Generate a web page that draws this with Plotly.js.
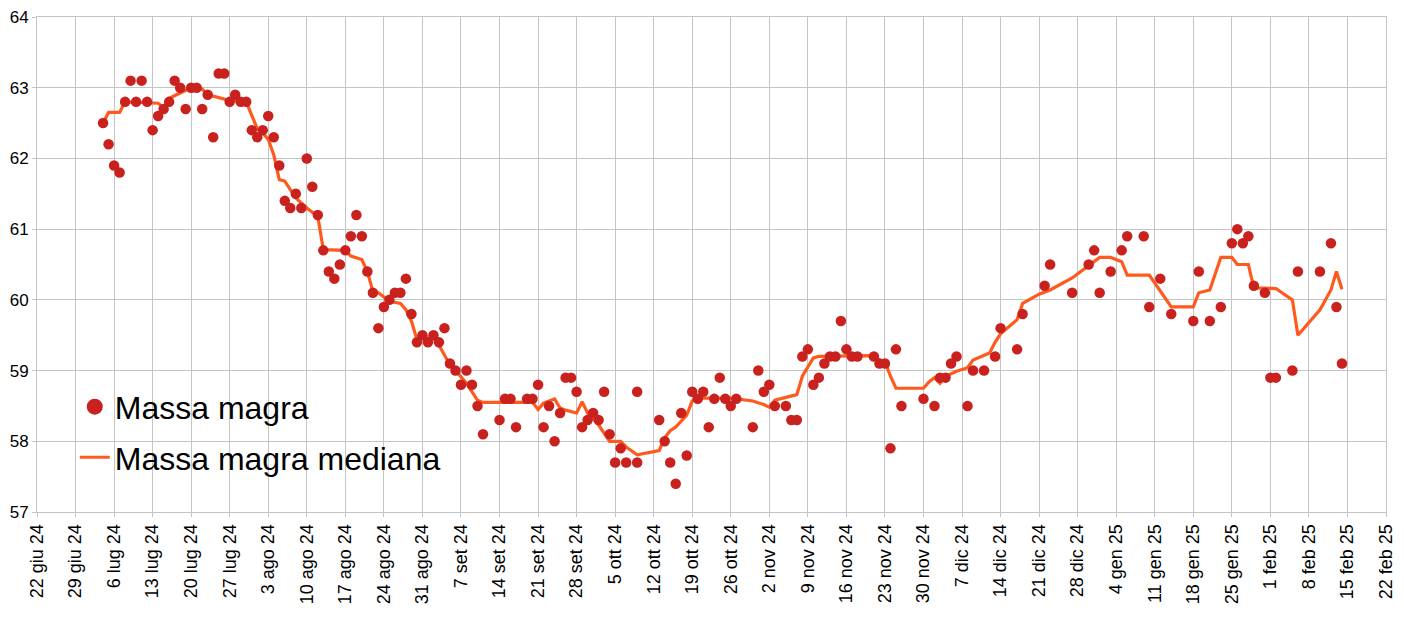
<!DOCTYPE html>
<html>
<head>
<meta charset="utf-8">
<script src="https://cdn.plot.ly/plotly-3.0.1.min.js"></script>
<style>
  html, body { margin: 0; padding: 0; background: #fff; }
  #chart { width: 1404px; height: 620px; }
</style>
</head>
<body>
<div id="chart"></div>
<script>
// misurazioni giornaliere (kg)
const dates = [
  '2024-07-04','2024-07-05','2024-07-06','2024-07-07','2024-07-08','2024-07-09','2024-07-10','2024-07-11',
  '2024-07-12','2024-07-13','2024-07-14','2024-07-15','2024-07-16','2024-07-17','2024-07-18','2024-07-19',
  '2024-07-20','2024-07-21','2024-07-22','2024-07-23','2024-07-24','2024-07-25','2024-07-26','2024-07-27',
  '2024-07-28','2024-07-29','2024-07-30','2024-07-31',
  '2024-08-01','2024-08-02','2024-08-03','2024-08-04','2024-08-05','2024-08-06','2024-08-07','2024-08-08',
  '2024-08-09','2024-08-10','2024-08-11','2024-08-12','2024-08-13','2024-08-14','2024-08-15','2024-08-16',
  '2024-08-17','2024-08-18','2024-08-19','2024-08-20','2024-08-21','2024-08-22','2024-08-23','2024-08-24',
  '2024-08-25','2024-08-26','2024-08-27','2024-08-28','2024-08-29','2024-08-30','2024-08-31',
  '2024-09-01','2024-09-02','2024-09-03','2024-09-04','2024-09-05','2024-09-06','2024-09-07','2024-09-08',
  '2024-09-09','2024-09-10','2024-09-11','2024-09-14','2024-09-15','2024-09-16','2024-09-17','2024-09-19',
  '2024-09-20','2024-09-21','2024-09-22','2024-09-23','2024-09-24','2024-09-25','2024-09-26','2024-09-27',
  '2024-09-28','2024-09-29','2024-09-30',
  '2024-10-01','2024-10-02','2024-10-03','2024-10-04','2024-10-05','2024-10-06','2024-10-07','2024-10-09',
  '2024-10-09','2024-10-13','2024-10-14','2024-10-15','2024-10-16','2024-10-17','2024-10-18','2024-10-19',
  '2024-10-20','2024-10-21','2024-10-22','2024-10-23','2024-10-24','2024-10-25','2024-10-26','2024-10-27',
  '2024-10-30','2024-10-31',
  '2024-11-01','2024-11-02','2024-11-03','2024-11-05','2024-11-06','2024-11-07','2024-11-08','2024-11-09',
  '2024-11-10','2024-11-11','2024-11-12','2024-11-13','2024-11-14','2024-11-15','2024-11-16','2024-11-17',
  '2024-11-18','2024-11-21','2024-11-22','2024-11-23','2024-11-24','2024-11-25','2024-11-26','2024-11-30',
  '2024-12-02','2024-12-03','2024-12-04','2024-12-05','2024-12-06','2024-12-08','2024-12-09','2024-12-11',
  '2024-12-13','2024-12-14','2024-12-17','2024-12-18','2024-12-22','2024-12-23','2024-12-27','2024-12-30',
  '2024-12-31',
  '2025-01-01','2025-01-03','2025-01-05','2025-01-06','2025-01-09','2025-01-10','2025-01-12','2025-01-14',
  '2025-01-18','2025-01-19','2025-01-21','2025-01-23','2025-01-25','2025-01-26','2025-01-27','2025-01-28',
  '2025-01-29','2025-01-31',
  '2025-02-01','2025-02-02','2025-02-05','2025-02-06','2025-02-10','2025-02-12','2025-02-13','2025-02-14'
];
const massa = [
  62.5,62.2,61.9,61.8,62.8,63.1,62.8,63.1,
  62.8,62.4,62.6,62.7,62.8,63.1,63.0,62.7,
  63.0,63.0,62.7,62.9,62.3,63.2,63.2,62.8,
  62.9,62.8,62.8,62.4,
  62.3,62.4,62.6,62.3,61.9,61.4,61.3,61.5,
  61.3,62.0,61.6,61.2,60.7,60.4,60.3,60.5,
  60.7,60.9,61.2,60.9,60.4,60.1,59.6,59.9,
  60.0,60.1,60.1,60.3,59.8,59.4,59.5,
  59.4,59.5,59.4,59.6,59.1,59.0,58.8,59.0,
  58.8,58.5,58.1,58.3,58.6,58.6,58.2,58.6,
  58.6,58.8,58.2,58.5,58.0,58.4,58.9,58.9,
  58.7,58.2,58.3,
  58.4,58.3,58.7,58.1,57.7,57.9,57.7,57.7,
  58.7,58.3,58.0,57.7,57.4,58.4,57.8,58.7,
  58.6,58.7,58.2,58.6,58.9,58.6,58.5,58.6,
  58.2,59.0,
  58.7,58.8,58.5,58.5,58.3,58.3,59.2,59.3,
  58.8,58.9,59.1,59.2,59.2,59.7,59.3,59.2,
  59.2,59.2,59.1,59.1,57.9,59.3,58.5,58.6,
  58.5,58.9,58.9,59.1,59.2,58.5,59.0,59.0,
  59.2,59.6,59.3,59.8,60.2,60.5,60.1,60.5,
  60.7,
  60.1,60.4,60.7,60.9,60.9,59.9,60.3,59.8,
  59.7,60.4,59.7,59.9,60.8,61.0,60.8,60.9,
  60.2,60.1,
  58.9,58.9,59.0,60.4,60.4,60.8,59.9,59.1
];

const medianaDates = [
  '2024-07-04','2024-07-05','2024-07-07','2024-07-08','2024-07-14','2024-07-15','2024-07-16','2024-07-18',
  '2024-07-20','2024-07-22','2024-07-23','2024-07-25','2024-07-27','2024-07-30','2024-07-31',
  '2024-08-01','2024-08-02','2024-08-03','2024-08-04','2024-08-05','2024-08-06','2024-08-08','2024-08-10',
  '2024-08-12','2024-08-13','2024-08-17','2024-08-18','2024-08-20','2024-08-21','2024-08-22','2024-08-23',
  '2024-08-25','2024-08-27','2024-08-28','2024-08-29','2024-08-30','2024-08-31',
  '2024-09-02','2024-09-03','2024-09-05','2024-09-06','2024-09-08','2024-09-10','2024-09-11','2024-09-20',
  '2024-09-21','2024-09-22','2024-09-24','2024-09-25','2024-09-26','2024-09-28','2024-09-29','2024-09-30',
  '2024-10-01','2024-10-02','2024-10-04','2024-10-06','2024-10-07','2024-10-09','2024-10-13','2024-10-14',
  '2024-10-15','2024-10-16','2024-10-17','2024-10-18','2024-10-19','2024-10-20','2024-10-26','2024-10-30',
  '2024-11-01','2024-11-02','2024-11-03','2024-11-05','2024-11-07','2024-11-08','2024-11-09','2024-11-10',
  '2024-11-11','2024-11-20','2024-11-22','2024-11-23','2024-11-24','2024-11-25','2024-11-30',
  '2024-12-01','2024-12-02','2024-12-03','2024-12-04','2024-12-06','2024-12-08','2024-12-09','2024-12-12',
  '2024-12-13','2024-12-14','2024-12-17','2024-12-18','2024-12-21','2024-12-23','2024-12-27',
  '2025-01-01','2025-01-03','2025-01-05','2025-01-06','2025-01-10','2025-01-12','2025-01-14','2025-01-18',
  '2025-01-19','2025-01-21','2025-01-23','2025-01-25','2025-01-26','2025-01-28','2025-01-29',
  '2025-02-02','2025-02-05','2025-02-06','2025-02-10','2025-02-12','2025-02-13','2025-02-14'
];
const mediana = [
  62.5,62.65,62.65,62.8,62.78,62.72,62.85,62.92,
  63.0,62.98,62.9,62.86,62.82,62.8,62.6,
  62.42,62.36,62.27,62.05,61.7,61.68,61.44,61.3,
  61.18,60.71,60.7,60.62,60.57,60.4,60.12,60.1,
  59.98,59.95,59.86,59.7,59.44,59.46,
  59.46,59.36,59.08,59.0,58.82,58.58,58.55,58.55,
  58.45,58.54,58.6,58.47,58.44,58.4,58.56,58.4,
  58.33,58.23,58.0,58.0,57.92,57.81,57.87,58.05,
  58.15,58.2,58.28,58.37,58.57,58.61,58.61,58.57,
  58.52,58.48,58.58,58.62,58.66,58.92,59.05,59.18,
  59.2,59.21,59.15,59.13,58.92,58.75,58.75,
  58.84,58.9,58.82,58.92,58.99,59.04,59.15,59.25,
  59.4,59.52,59.72,59.95,60.08,60.14,60.31,
  60.6,60.6,60.54,60.35,60.35,60.12,59.9,59.9,
  60.1,60.14,60.6,60.6,60.5,60.5,60.17,
  60.16,60.0,59.5,59.86,60.14,60.4,60.15
];

// etichette asse x (settimanali)
const tickDates = [
  '2024-06-22','2024-06-29','2024-07-06','2024-07-13','2024-07-20','2024-07-27','2024-08-03','2024-08-10',
  '2024-08-17','2024-08-24','2024-08-31','2024-09-07','2024-09-14','2024-09-21','2024-09-28','2024-10-05',
  '2024-10-12','2024-10-19','2024-10-26','2024-11-02','2024-11-09','2024-11-16','2024-11-23','2024-11-30',
  '2024-12-07','2024-12-14','2024-12-21','2024-12-28','2025-01-04','2025-01-11','2025-01-18','2025-01-25',
  '2025-02-01','2025-02-08','2025-02-15','2025-02-22'
];
const tickLabels = [
  '22 giu 24','29 giu 24','6 lug 24','13 lug 24','20 lug 24','27 lug 24','3 ago 24','10 ago 24',
  '17 ago 24','24 ago 24','31 ago 24','7 set 24','14 set 24','21 set 24','28 set 24','5 ott 24',
  '12 ott 24','19 ott 24','26 ott 24','2 nov 24','9 nov 24','16 nov 24','23 nov 24','30 nov 24',
  '7 dic 24','14 dic 24','21 dic 24','28 dic 24','4 gen 25','11 gen 25','18 gen 25','25 gen 25',
  '1 feb 25','8 feb 25','15 feb 25','22 feb 25'
];

const RED = '#c9211e';
const ORANGE = '#ff5a1e';
const GRID = '#c4c4c4';
const FONT = 'Liberation Sans, Arial, sans-serif';

var traces = [
  {
    x: medianaDates, y: mediana,
    type: 'scatter', mode: 'lines',
    name: 'Massa magra mediana',
    line: {color: ORANGE, width: 3.2},
    legendgroup: 'b', legendrank: 2
  },
  {
    x: dates, y: massa,
    type: 'scatter', mode: 'markers',
    name: 'Massa magra',
    marker: {color: RED, size: 10.5},
    showlegend: false
  },
  // solo per la legenda (simbolo piu grande)
  {
    x: [null], y: [null],
    type: 'scatter', mode: 'markers',
    name: 'Massa magra',
    marker: {color: RED, size: 22},
    legendgroup: 'a', legendrank: 1
  }
];

var layout = {
  width: 1404, height: 620,
  margin: {l: 37, r: 18, t: 17, b: 108},
  paper_bgcolor: '#fff', plot_bgcolor: '#fff',
  font: {family: FONT, color: '#000'},
  showlegend: true,
  legend: {
    x: 0.028, y: 0.268, xanchor: 'left', yanchor: 'top',
    bgcolor: 'rgba(0,0,0,0)',
    font: {family: FONT, size: 32, color: '#000'},
    itemsizing: 'trace',
    tracegroupgap: 6
  },
  xaxis: {
    type: 'date',
    range: ['2024-06-22', '2025-02-22'],
    tickmode: 'array', tickvals: tickDates, ticktext: tickLabels,
    tickangle: -90,
    tickfont: {family: FONT, size: 18, color: '#000'},
    showgrid: true, gridcolor: GRID, gridwidth: 1,
    showline: true, linecolor: GRID, mirror: true,
    ticks: 'outside', ticklen: 4, tickcolor: GRID,
    zeroline: false
  },
  yaxis: {
    range: [57, 64],
    tickmode: 'linear', tick0: 57, dtick: 1,
    tickfont: {family: FONT, size: 17, color: '#000'},
    showgrid: true, gridcolor: GRID, gridwidth: 1,
    showline: true, linecolor: GRID, mirror: true,
    ticks: 'outside', ticklen: 4, tickcolor: GRID,
    zeroline: false
  }
};

Plotly.newPlot(document.getElementById('chart'), traces, layout, {displayModeBar: false, staticPlot: true});
</script>
</body>
</html>
